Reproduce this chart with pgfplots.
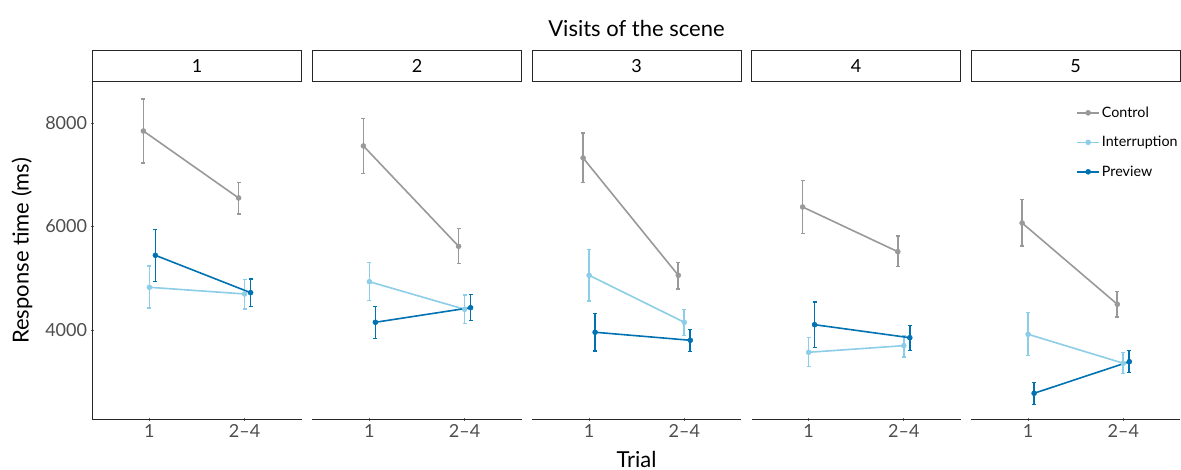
\documentclass[border=0pt]{standalone}
\usepackage{fontspec}
\setmainfont{Lato}
\usepackage{pgfplots}
\pgfplotsset{compat=1.18}
\definecolor{ctrl}{RGB}{153,153,153}
\definecolor{intr}{RGB}{140,205,232}
\definecolor{prev}{RGB}{0,114,178}
\definecolor{ticklab}{RGB}{77,77,77}
\newcommand{\tickfont}{\fontsize{18}{20}\selectfont}
\newcommand{\bigfont}{\fontsize{22}{24}\selectfont}

\pgfplotsset{
  panel/.style={
    width=209.4pt, height=337.3pt, scale only axis,
    xmin=0.4, xmax=2.6, ymin=2274, ymax=8792,
    xtick={1,2}, xticklabels={1,2–4},
    ytick={4000,6000,8000},
    clip=false,
    tick align=outside, major tick length=3.5pt,
    tick style={line width=0.8pt, color=black!60},
    ticklabel style={font=\tickfont, color=ticklab},
    /pgf/number format/assume math mode=true,
    /pgf/number format/1000 sep={},
    anchor=south west,
  },
  lines/.style={
    axis line style={-, line width=1.1pt, color=black!85},
  },
  serie/.style={
    color=#1, line width=1.6pt, mark=*, mark size=2.5pt,
    mark options={fill=#1, draw=#1, line width=0.5pt},
    /pgfplots/error bars/y dir=both,
    /pgfplots/error bars/y explicit,
    /pgfplots/error bars/error bar style={line width=1.7pt, color=#1},
    /pgfplots/error bars/error mark options={rotate=90, mark size=2pt, line width=1.1pt, color=#1},
  },
}

\newcommand{\strip}[1]{\node[draw=black!85, line width=1pt, fill=white, minimum width=209.4pt, minimum height=31pt, inner sep=0pt, anchor=south, font=\tickfont] at (rel axis cs:0.5,1) {#1};}

\begin{document}
\begin{tikzpicture}
\path[use as bounding box] (0,0) rectangle (1181pt,-470pt);

% Panel 1
\begin{axis}[panel, at={(92.3pt,-419.3pt)}, axis x line=bottom, axis y line=left, lines]
\addplot+[serie=ctrl] table[x=x,y=y,y error plus=ep,y error minus=em] {
x y ep em
0.937 7845 619 618
1.937 6551 303 309
};
\addplot+[serie=intr] table[x=x,y=y,y error plus=ep,y error minus=em] {
x y ep em
1 4825 412 400
2 4696 284 290
};
\addplot+[serie=prev] table[x=x,y=y,y error plus=ep,y error minus=em] {
x y ep em
1.063 5443 495 502
2.063 4721 265 271
};
\strip{1}
\end{axis}

% Panel 2
\begin{axis}[panel, at={(312.3pt,-419.3pt)}, axis x line=bottom, axis y line=none, lines]
\addplot+[serie=ctrl] table[x=x,y=y,y error plus=ep,y error minus=em] {
x y ep em
0.937 7556 527 528
1.937 5617 340 336
};
\addplot+[serie=intr] table[x=x,y=y,y error plus=ep,y error minus=em] {
x y ep em
1 4933 375 367
2 4400 276 278
};
\addplot+[serie=prev] table[x=x,y=y,y error plus=ep,y error minus=em] {
x y ep em
1.063 4149 301 317
2.063 4431 259 251
};
\strip{2}
\end{axis}

% Panel 3
\begin{axis}[panel, at={(532pt,-419.3pt)}, axis x line=bottom, axis y line=none, lines]
\addplot+[serie=ctrl] table[x=x,y=y,y error plus=ep,y error minus=em] {
x y ep em
0.937 7324 483 478
1.937 5057 251 265
};
\addplot+[serie=intr] table[x=x,y=y,y error plus=ep,y error minus=em] {
x y ep em
1 5057 502 497
2 4149 243 259
};
\addplot+[serie=prev] table[x=x,y=y,y error plus=ep,y error minus=em] {
x y ep em
1.063 3956 359 362
2.063 3801 213 213
};
\strip{3}
\end{axis}

% Panel 4
\begin{axis}[panel, at={(751.5pt,-419.3pt)}, axis x line=bottom, axis y line=none, lines]
\addplot+[serie=ctrl] table[x=x,y=y,y error plus=ep,y error minus=em] {
x y ep em
0.937 6377 516 516
1.937 5513 303 290
};
\addplot+[serie=intr] table[x=x,y=y,y error plus=ep,y error minus=em] {
x y ep em
1 3569 282 278
2 3697 201 219
};
\addplot+[serie=prev] table[x=x,y=y,y error plus=ep,y error minus=em] {
x y ep em
1.063 4102 439 436
2.063 3851 240 243
};
\strip{4}
\end{axis}

% Panel 5
\begin{axis}[panel, at={(971pt,-419.3pt)}, axis x line=bottom, axis y line=none, lines,
  legend style={draw=none, fill=none, font=\fontsize{14.3}{17}\selectfont,
    at={(axis description cs:0.997,0.933)}, anchor=north east,
    row sep=13.5pt, inner sep=0pt},
  legend cell align=left,
  legend image code/.code={\draw[mark repeat=2,mark phase=2,#1] plot coordinates {(0pt,0pt) (11pt,0pt) (22pt,0pt)};},
]
\addplot+[serie=ctrl] table[x=x,y=y,y error plus=ep,y error minus=em] {
x y ep em
0.937 6068 450 445
1.937 4497 243 246
};
\addlegendentry{Control}
\addplot+[serie=intr] table[x=x,y=y,y error plus=ep,y error minus=em] {
x y ep em
1 3917 417 406
2 3357 204 201
};
\addlegendentry{Interruption}
\addplot+[serie=prev] table[x=x,y=y,y error plus=ep,y error minus=em] {
x y ep em
1.063 2777 213 213
2.063 3387 213 204
};
\addlegendentry{Preview}
\strip{5}
\end{axis}

\node[font=\bigfont] at (636.5pt,-28pt) {Visits of the scene};
\node[font=\bigfont] at (636.5pt,-459pt) {Trial};
\node[font=\bigfont, rotate=90] at (22pt,-251pt) {Response time (ms)};
\end{tikzpicture}
\end{document}
